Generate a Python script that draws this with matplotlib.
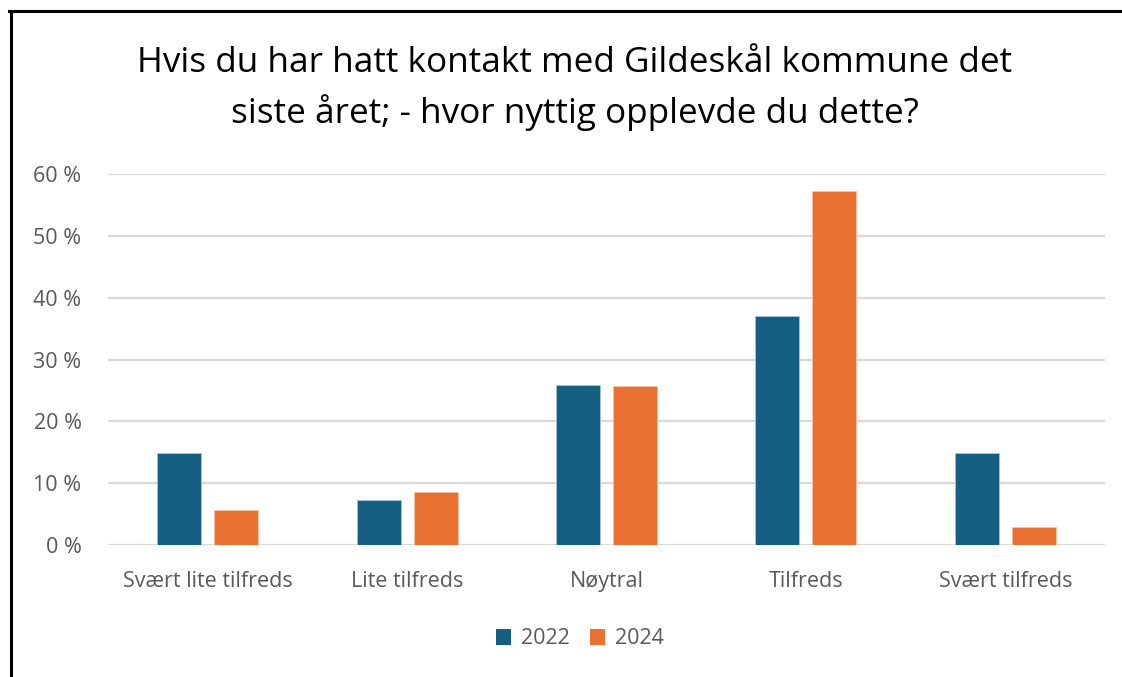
import matplotlib
matplotlib.use("Agg")
import matplotlib.pyplot as plt
import numpy as np
from matplotlib.lines import Line2D
from matplotlib.patches import Patch

categories = ["Svært lite tilfreds", "Lite tilfreds", "Nøytral", "Tilfreds", "Svært tilfreds"]
series_names = ["2022", "2024"]
values_2022 = [14.8, 7.3, 25.9, 37.1, 14.8]
values_2024 = [5.7, 8.6, 25.7, 57.2, 2.9]
yticks = [0, 10, 20, 30, 40, 50, 60]
title = "Hvis du har hatt kontakt med Gildeskål kommune det\nsiste året; - hvor nyttig opplevde du dette?"

plt.rcParams['font.family'] = ['Open Sans', 'DejaVu Sans']

W, H = 1122, 677
fig = plt.figure(figsize=(W / 100, H / 100), dpi=100)
fig.patch.set_facecolor("white")

ax = fig.add_axes([108 / W, 1 - 545 / H, (1105 - 108) / W, (545 - 174) / H])
x = np.arange(len(categories))
bw = 0.22
off = 0.143
c1, c2 = "#156082", "#E97132"
ax.bar(x - off, values_2022, bw, color=c1, edgecolor="#a9c4d4", linewidth=0.6, zorder=3)
ax.bar(x + off, values_2024, bw, color=c2, edgecolor="#f5c3a5", linewidth=0.6, zorder=3)

ax.set_xlim(-0.5, len(categories) - 0.5)
ax.set_ylim(0, 60)
ax.set_yticks(yticks)
ax.set_yticklabels([f"{v} %" for v in yticks])
ax.set_xticks(x)
ax.set_xticklabels(categories)
ax.yaxis.grid(True, color="#D9D9D9", linewidth=1.6, zorder=0)
ax.set_axisbelow(True)
for s in ax.spines.values():
    s.set_visible(False)
ax.tick_params(axis="both", length=0, colors="#595959", labelsize=15.5)
ax.tick_params(axis="y", pad=19)
ax.tick_params(axis="x", pad=18.5)
for lab in ax.get_xticklabels() + ax.get_yticklabels():
    lab.set_color("#595959")

fig.text(575 / W, 1 - 88.5 / H, title, ha="center", va="center", fontsize=25.3,
         color="#000000", linespacing=1.48)

handles = [Patch(facecolor=c1, edgecolor="none"), Patch(facecolor=c2, edgecolor="none")]
fig.legend(handles, series_names, loc="center", bbox_to_anchor=(580 / W, 1 - 639 / H),
           ncol=2, frameon=False, fontsize=15.5, handlelength=0.7, handleheight=0.7,
           handletextpad=0.5, columnspacing=0.9, labelcolor="#595959")

# frame border (left and top visible)
fig.add_artist(Line2D([10.5 / W, 10.5 / W], [0, 1 - 10.5 / H], color="black", linewidth=2.2,
                      transform=fig.transFigure))
fig.add_artist(Line2D([9 / W, 1], [1 - 10.5 / H, 1 - 10.5 / H], color="black", linewidth=2.2,
                      transform=fig.transFigure))

fig.savefig("out.png", dpi=100, facecolor="white")
